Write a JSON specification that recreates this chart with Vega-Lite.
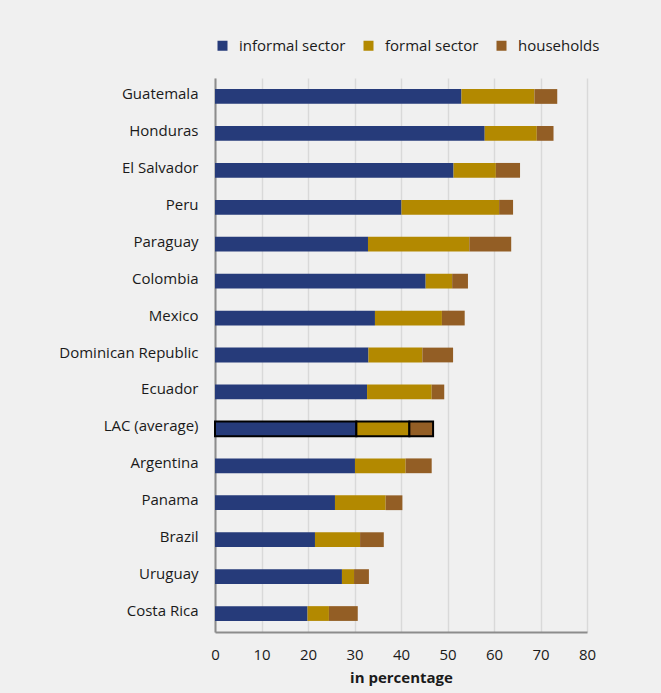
{
  "$schema": "https://vega.github.io/schema/vega-lite/v6.json",
  "width": 372,
  "height": 554,
  "autosize": {"type": "none"},
  "padding": {"left": 215, "top": 78, "right": 74, "bottom": 61},
  "background": "#f0f0f0",
  "data": {
    "values": [
      {"country": "Guatemala", "sector": "informal sector", "value": 53.0},
      {"country": "Guatemala", "sector": "formal sector", "value": 15.7},
      {"country": "Guatemala", "sector": "households", "value": 4.9},
      {"country": "Honduras", "sector": "informal sector", "value": 58.0},
      {"country": "Honduras", "sector": "formal sector", "value": 11.2},
      {"country": "Honduras", "sector": "households", "value": 3.6},
      {"country": "El Salvador", "sector": "informal sector", "value": 51.3},
      {"country": "El Salvador", "sector": "formal sector", "value": 9.1},
      {"country": "El Salvador", "sector": "households", "value": 5.2},
      {"country": "Peru", "sector": "informal sector", "value": 40.1},
      {"country": "Peru", "sector": "formal sector", "value": 21.0},
      {"country": "Peru", "sector": "households", "value": 3.0},
      {"country": "Paraguay", "sector": "informal sector", "value": 32.9},
      {"country": "Paraguay", "sector": "formal sector", "value": 21.8},
      {"country": "Paraguay", "sector": "households", "value": 9.0},
      {"country": "Colombia", "sector": "informal sector", "value": 45.3},
      {"country": "Colombia", "sector": "formal sector", "value": 5.7},
      {"country": "Colombia", "sector": "households", "value": 3.4},
      {"country": "Mexico", "sector": "informal sector", "value": 34.4},
      {"country": "Mexico", "sector": "formal sector", "value": 14.4},
      {"country": "Mexico", "sector": "households", "value": 4.9},
      {"country": "Dominican Republic", "sector": "informal sector", "value": 33.0},
      {"country": "Dominican Republic", "sector": "formal sector", "value": 11.6},
      {"country": "Dominican Republic", "sector": "households", "value": 6.6},
      {"country": "Ecuador", "sector": "informal sector", "value": 32.7},
      {"country": "Ecuador", "sector": "formal sector", "value": 13.9},
      {"country": "Ecuador", "sector": "households", "value": 2.7},
      {"country": "LAC (average)", "sector": "informal sector", "value": 30.4},
      {"country": "LAC (average)", "sector": "formal sector", "value": 11.4},
      {"country": "LAC (average)", "sector": "households", "value": 5.1},
      {"country": "Argentina", "sector": "informal sector", "value": 30.1},
      {"country": "Argentina", "sector": "formal sector", "value": 10.9},
      {"country": "Argentina", "sector": "households", "value": 5.6},
      {"country": "Panama", "sector": "informal sector", "value": 25.8},
      {"country": "Panama", "sector": "formal sector", "value": 10.9},
      {"country": "Panama", "sector": "households", "value": 3.6},
      {"country": "Brazil", "sector": "informal sector", "value": 21.5},
      {"country": "Brazil", "sector": "formal sector", "value": 9.7},
      {"country": "Brazil", "sector": "households", "value": 5.1},
      {"country": "Uruguay", "sector": "informal sector", "value": 27.3},
      {"country": "Uruguay", "sector": "formal sector", "value": 2.6},
      {"country": "Uruguay", "sector": "households", "value": 3.2},
      {"country": "Costa Rica", "sector": "informal sector", "value": 19.9},
      {"country": "Costa Rica", "sector": "formal sector", "value": 4.6},
      {"country": "Costa Rica", "sector": "households", "value": 6.2}
    ]
  },
  "mark": {"type": "bar"},
  "encoding": {
    "y": {
      "field": "country",
      "type": "nominal",
      "sort": null,
      "scale": {"paddingInner": 0.6, "paddingOuter": 0.3},
      "axis": {
        "title": null,
        "ticks": false,
        "grid": false,
        "domainColor": "#8c8c8c",
        "domainWidth": 2,
        "labelPadding": 17,
        "labelOffset": -2.5,
        "labelFontSize": 15,
        "labelFont": "Open Sans",
        "labelColor": "#1a1a1a"
      }
    },
    "x": {
      "field": "value",
      "type": "quantitative",
      "stack": "zero",
      "scale": {"domain": [0, 80], "nice": false},
      "axis": {
        "title": "in percentage",
        "values": [0, 10, 20, 30, 40, 50, 60, 70, 80],
        "ticks": false,
        "grid": true,
        "gridColor": "#d9d9d9",
        "gridWidth": 1.5,
        "domainColor": "#8c8c8c",
        "domainWidth": 2,
        "labelFlush": false,
        "labelPadding": 15,
        "labelFontSize": 15,
        "labelFont": "Open Sans",
        "labelColor": "#1a1a1a",
        "titleFont": "Open Sans",
        "titleFontSize": 15,
        "titleFontWeight": "bold",
        "titleColor": "#1a1a1a",
        "titlePadding": 8
      }
    },
    "color": {
      "field": "sector",
      "type": "nominal",
      "scale": {
        "domain": ["informal sector", "formal sector", "households"],
        "range": ["#263b7a", "#b38900", "#935e25"]
      },
      "legend": {
        "title": null,
        "orient": "none",
        "direction": "horizontal",
        "legendX": 0,
        "legendY": -40,
        "symbolType": "square",
        "symbolSize": 100,
        "symbolStrokeWidth": 0,
        "labelFont": "Open Sans",
        "labelFontSize": 15,
        "labelColor": "#1a1a1a",
        "columnPadding": 15,
        "labelOffset": 9
      }
    },
    "order": {"field": "sectorOrder"},
    "stroke": {
      "condition": {"test": "datum.country === 'LAC (average)'", "value": "#000000"},
      "value": null
    },
    "strokeWidth": {
      "condition": {"test": "datum.country === 'LAC (average)'", "value": 2},
      "value": 0
    }
  },
  "config": {"view": {"stroke": null}}
}
